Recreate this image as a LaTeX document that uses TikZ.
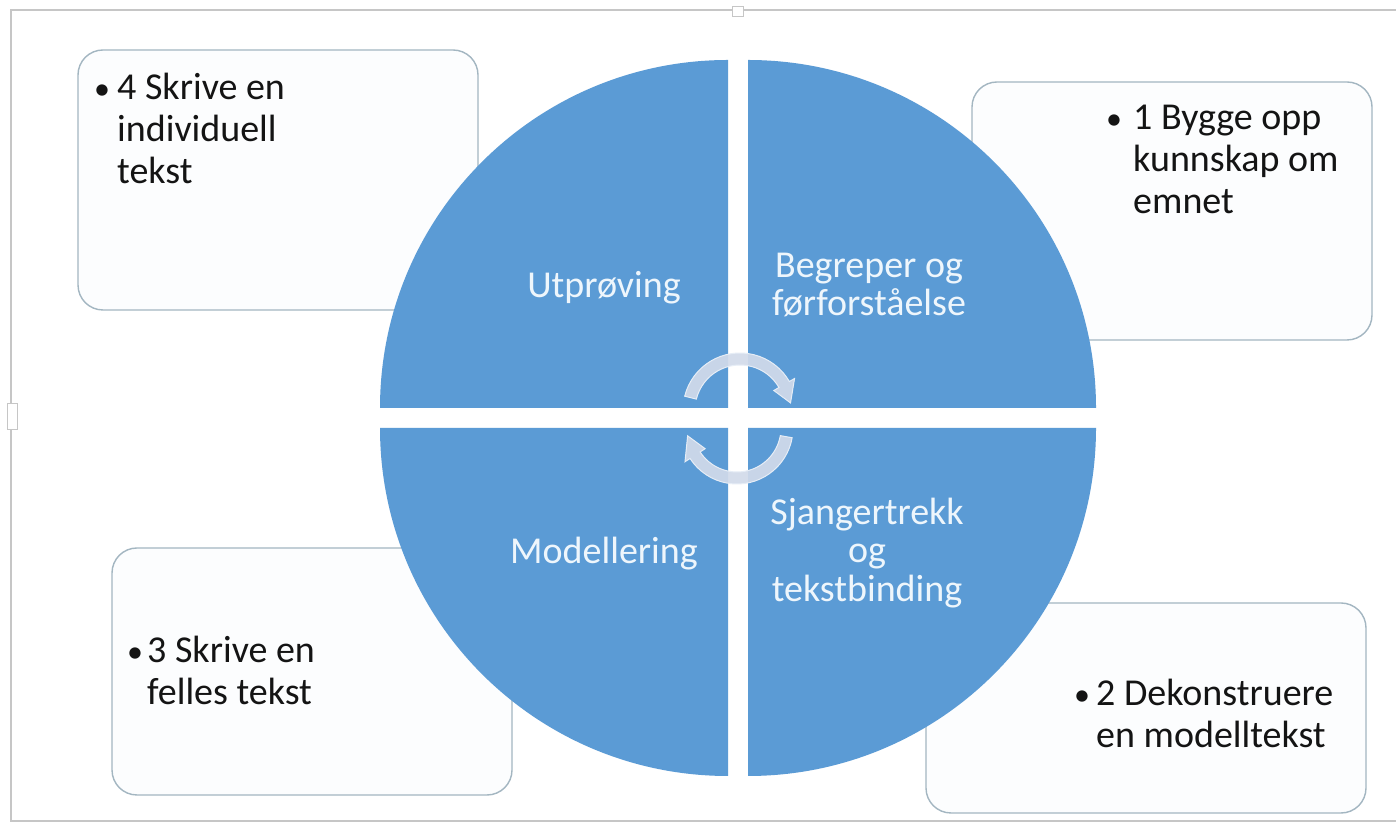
\documentclass[tikz,border=0pt]{standalone}
\usepackage{fontspec}
\setmainfont{Carlito}
\usetikzlibrary{calc}
\definecolor{pieblue}{HTML}{5B9BD5}
\definecolor{boxline}{HTML}{A3B6C1}
\definecolor{boxfill}{HTML}{FCFDFE}
\definecolor{labtext}{HTML}{EEF6FC}
\definecolor{arrowfill}{HTML}{D2DBEA}
\definecolor{arrowline}{HTML}{E6EDF6}
\definecolor{framegray}{HTML}{C6C6C6}
\begin{document}
\begin{tikzpicture}[x=1pt,y=1pt,
  box/.style={draw=boxline, line width=1.4pt, fill=boxfill, rounded corners=25pt,
    inner sep=0pt, outer sep=0pt},
  btext/.style={font=\fontsize{38}{42}\selectfont, text=black!92, align=left,
    inner sep=0pt, anchor=north west},
  bul/.style={font=\fontsize{32}{42}\selectfont, text=black!92, inner sep=0pt,
    anchor=north west},
  quad/.style={fill=pieblue},
  lab/.style={font=\fontsize{38}{38.5}\selectfont, text=labtext, align=center,
    inner sep=0pt},
  cyc/.style={fill=arrowfill, draw=arrowline, line width=1pt, fill opacity=0.92}]
\useasboundingbox (0,0) rectangle (1396,826);
\fill[white] (0,0) rectangle (1396,826);
% outer frame and handles
\draw[framegray, line width=1.2pt] (1402,816) -- (11,816) -- (11,5) -- (1402,5);
\draw[framegray, fill=white, line width=0.8pt] (732,810) rectangle (743,820);
\draw[framegray, fill=white, line width=0.8pt] (7,397) rectangle (17,423);
% boxes
\node[box, minimum width=400pt, minimum height=260pt] (box4) at (278,646) {};
\node[box, minimum width=400pt, minimum height=258pt] (box1) at (1172,615) {};
\node[box, minimum width=400pt, minimum height=247pt] (box3) at (312,154.5) {};
\node[box, minimum width=440pt, minimum height=210pt] (box2) at (1146,118) {};
% box texts
\node[bul] (bul4) at (94,756.4) {\strut\textbullet};
\node[btext] (txt4) at (117,756.4) {\strut 4 Skrive en\\individuell\\tekst};
\node[bul] (bul1) at (1106,726.4) {\strut\textbullet};
\node[btext] (txt1) at (1133,726.4) {\strut 1 Bygge opp\\kunnskap om\\emnet};
\node[bul] (bul3) at (127,193.4) {\strut\textbullet};
\node[btext] (txt3) at (147,193.4) {\strut 3 Skrive en\\felles tekst};
\node[bul] (bul2) at (1074,150.4) {\strut\textbullet};
\node[btext] (txt2) at (1096,150.4) {\strut 2 Dekonstruere\\en modelltekst};
% pie quadrants
\fill[quad] (728,418) -- ++(-348,0) arc[start angle=180, end angle=90, radius=348pt] -- cycle;
\fill[quad] (748,418) -- ++(0,348) arc[start angle=90, end angle=0, radius=348pt] -- cycle;
\fill[quad] (728,398) -- ++(0,-348) arc[start angle=270, end angle=180, radius=348pt] -- cycle;
\fill[quad] (748,398) -- ++(348,0) arc[start angle=0, end angle=-90, radius=348pt] -- cycle;
% cycle arrows
\path[cyc, shift={(740,416)}] (166:57pt) arc[start angle=166, end angle=30, radius=57pt]
  -- (30:63pt) -- (8:51pt) -- (30:39pt) -- (30:45pt)
  arc[start angle=30, end angle=166, radius=45pt] -- cycle;
\path[cyc, shift={(737,398)}] (350:56pt) arc[start angle=350, end angle=213, radius=56pt]
  -- (213:62pt) -- (189:50pt) -- (213:38pt) -- (213:44pt)
  arc[start angle=213, end angle=350, radius=44pt] -- cycle;
% quadrant labels
\node[lab] (lutp) at (604,538) {Utprøving};
\node[lab] (lbeg) at (869,541) {Begreper og\\førforståelse};
\node[lab] (lmod) at (604,272) {Modellering};
\node[lab] (lsja) at (867,273) {Sjangertrekk\\og\\tekstbinding};
\end{tikzpicture}
\end{document}
